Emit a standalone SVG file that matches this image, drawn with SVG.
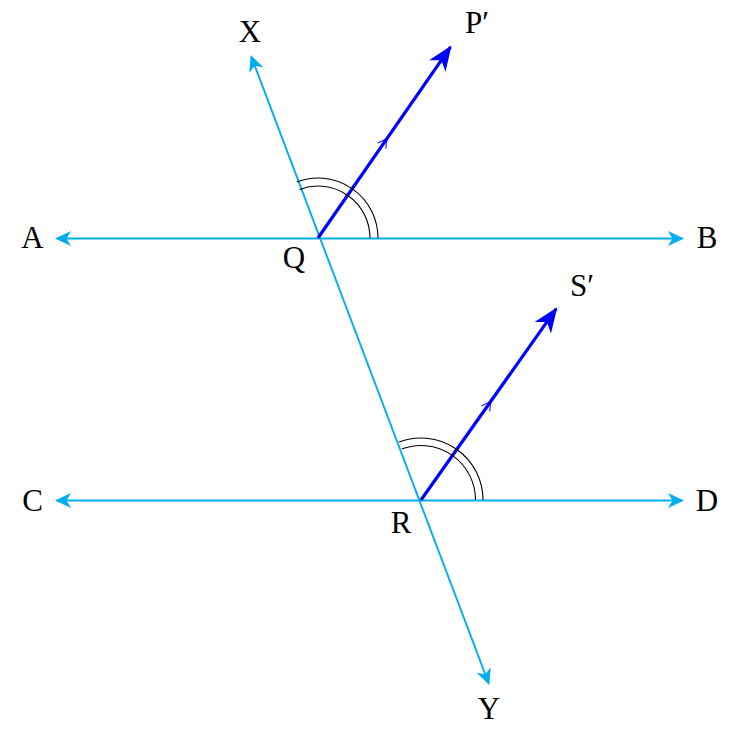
<svg xmlns="http://www.w3.org/2000/svg" width="742" height="733" viewBox="0 0 742 733">
<style>
.cy{stroke:#00AEEF;stroke-width:1.9;fill:none}
.bl{stroke:#0000FF;stroke-width:3.2;fill:none}
.arc{stroke:#000;stroke-width:1.1;fill:none}
.mid{stroke:#0000FF;stroke-width:1;fill:none}
text{font-family:"Liberation Serif","Times New Roman",serif;font-size:31px;fill:#000}
</style>
<defs>
<marker id="ac" markerUnits="userSpaceOnUse" orient="auto-start-reverse" refX="-2" refY="0" overflow="visible" markerWidth="20" markerHeight="20">
<path d="M0,0 L-16,-7.5 L-11.5,0 L-16,7.5 Z" fill="#00AEEF"/>
</marker>
<marker id="ab" markerUnits="userSpaceOnUse" orient="auto" refX="-2" refY="0" overflow="visible" markerWidth="30" markerHeight="30">
<path d="M0,0 L-25,-10 L-18,0 L-25,10 Z" fill="#0000FF"/>
</marker>
</defs>
<g id="connectors">
<line id="AB" class="cy" x1="57" y1="238.5" x2="682" y2="238.5" marker-start="url(#ac)" marker-end="url(#ac)"/>
<line id="CD" class="cy" x1="57" y1="500.5" x2="682" y2="500.5" marker-start="url(#ac)" marker-end="url(#ac)"/>
<line id="XY" class="cy" x1="251.4" y1="56.9" x2="488.6" y2="683.1" marker-start="url(#ac)" marker-end="url(#ac)"/>
<line id="QP" class="bl" x1="318" y1="238" x2="450.4" y2="47.1" marker-end="url(#ab)"/>
<line id="RS" class="bl" x1="421" y1="500" x2="556.1" y2="308.9" marker-end="url(#ab)"/>
<path class="mid" d="M-10,-5 Q-4,-1 0,0 Q-4,1 -10,5" transform="translate(387.5,137.7) rotate(-55.3)"/>
<path class="mid" d="M-10,-5 Q-4,-1 0,0 Q-4,1 -10,5" transform="translate(491.5,400.4) rotate(-54.7)"/>
</g>
<g id="angle-Q">
<path class="arc" d="M370,238 A52,52 0 0 0 299.6,189.4"/>
<path class="arc" d="M378,238 A60,60 0 0 0 296.8,181.9"/>
</g>
<g id="angle-R">
<path class="arc" d="M475.5,500 A54.5,54.5 0 0 0 401.7,449"/>
<path class="arc" d="M483,500 A62,62 0 0 0 399.1,442"/>
</g>
<g id="labels">
<g id="node-X"><text x="250" y="42" text-anchor="middle">X</text></g>
<g id="node-P"><text x="465" y="33">P′</text></g>
<g id="node-A"><text x="32.5" y="248" text-anchor="middle">A</text></g>
<g id="node-B"><text x="707" y="248" text-anchor="middle">B</text></g>
<g id="node-Q"><text x="294" y="268" text-anchor="middle">Q</text></g>
<g id="node-S"><text x="570" y="296">S′</text></g>
<g id="node-C"><text x="32.5" y="511" text-anchor="middle">C</text></g>
<g id="node-D"><text x="707" y="511" text-anchor="middle">D</text></g>
<g id="node-R"><text x="401" y="533" text-anchor="middle">R</text></g>
<g id="node-Y"><text x="489" y="719" text-anchor="middle">Y</text></g>
</g>
</svg>
